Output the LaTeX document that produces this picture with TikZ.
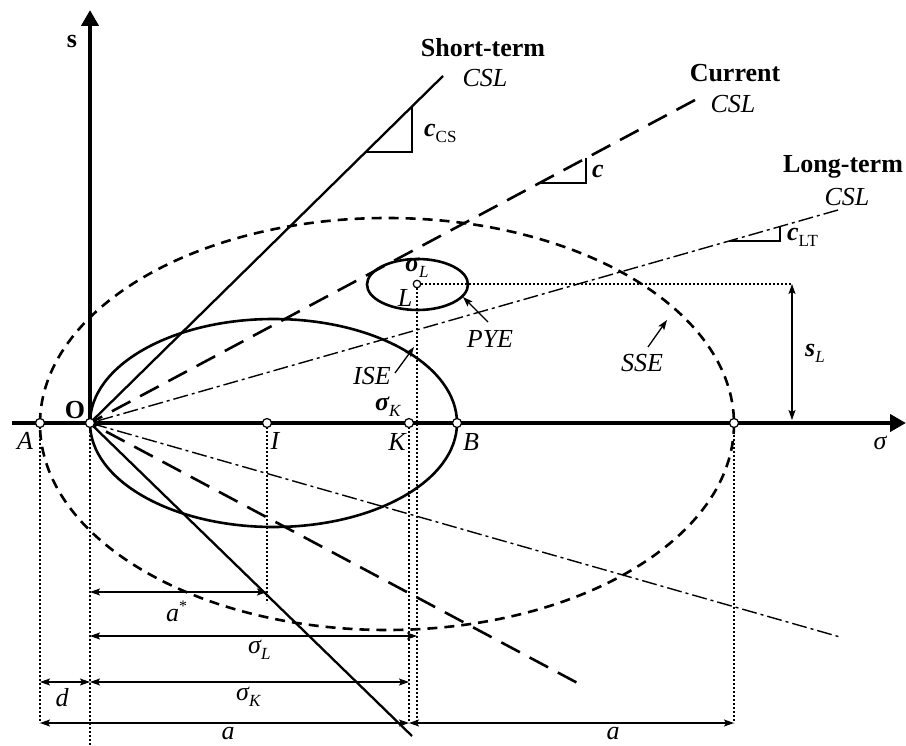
\documentclass[tikz,border=0pt]{standalone}
\usepackage{fontspec}
\setmainfont{Liberation Serif}
\usetikzlibrary{arrows.meta}
\newcommand{\mysub}[1]{\raisebox{-6pt}{\fontsize{17}{17}\selectfont #1}}
\newcommand{\bigf}{\fontsize{26}{30}\selectfont}
\begin{document}
\begin{tikzpicture}[x=1pt,y=-1pt,
  lbl/.style={font=\bigf\itshape, inner sep=0pt},
  blbl/.style={font=\bigf\bfseries, inner sep=0pt},
  bilbl/.style={font=\bigf\bfseries\itshape, inner sep=0pt},
  pnt/.style={circle, draw, fill=white, inner sep=0pt, minimum size=9pt, line width=1.2pt},
  dimline/.style={line width=1.2pt, {Stealth[length=10pt,width=7pt,inset=2pt]}-{Stealth[length=10pt,width=7pt,inset=2pt]}},
  guide/.style={line width=1.3pt, dash pattern=on 2pt off 2pt},
  slope/.style={line width=1.2pt},
  pointer/.style={line width=1.3pt, -{Stealth[length=10pt,width=7pt,inset=2pt]}},
  axis/.style={line width=4.3pt, -{Triangle[length=16pt,width=17pt]}},
  shortcsl/.style={line width=2.3pt},
  curcsl/.style={line width=2.6pt, dash pattern=on 21pt off 11pt},
  longcsl/.style={line width=1.4pt, dash pattern=on 15pt off 4pt on 3pt off 4pt},
  ellsolid/.style={line width=2.6pt},
  elldash/.style={line width=2.6pt, dash pattern=on 10pt off 7pt}
]
\useasboundingbox (0,0) rectangle (906,746);

% key points
\coordinate (O) at (90,423);
\coordinate (A) at (40,423);
\coordinate (I) at (267,423);
\coordinate (K) at (409,423);
\coordinate (B) at (457,423);
\coordinate (R) at (734,423);
\coordinate (L) at (417,284);

% line ends
\coordinate (stTop) at (443,76);
\coordinate (stBot) at (412,736);
\coordinate (cuTop) at (695,100);
\coordinate (cuBot) at (585,687);
\coordinate (ltTop) at (838,210);
\coordinate (ltBot) at (840,637);

% ellipses
\draw[elldash] (387,424) ellipse [x radius=347, y radius=206];
\draw[ellsolid] (273.5,423) ellipse [x radius=183.5, y radius=104];
\draw[ellsolid] (417.5,284.5) ellipse [x radius=50.5, y radius=25.5];

% CSL lines
\draw[shortcsl] (stTop) -- (O) -- (stBot);
\draw[curcsl] (cuTop) -- (O) -- (cuBot);
\draw[longcsl] (ltTop) -- (O) -- (ltBot);

% slope triangles
\draw[slope] (365.7,152) -- (412,152) -- (412,106.5);
\draw[slope] (539.5,183) -- (586,183) -- (586,158.2);
\draw[slope] (729,241) -- (780,241) -- (780,226.5);

% guides
\coordinate (sLtop) at (792,284);
\coordinate (sLbot) at (792,420);
\draw[guide] (L) -- (sLtop);
\draw[guide] (A) -- (40,723);
\draw[guide] (O) -- (90,746);
\draw[guide] (I) -- (267,603);
\draw[guide] (K) -- (409,723);
\draw[guide] (L) -- (417,723);
\draw[guide] (R) -- (734,723);

% axes
\coordinate (xStart) at (12,423);
\coordinate (xEnd) at (906,423);
\coordinate (yEnd) at (90,10);
\draw[axis] (xStart) -- (xEnd);
\draw[axis] (O) -- (yEnd);

% s_L dimension
\draw[dimline] (sLtop) -- (sLbot);

% dimension lines
\coordinate (d1a) at (90,592);  \coordinate (d1b) at (267,592);
\coordinate (d2a) at (90,636);  \coordinate (d2b) at (417,636);
\coordinate (d3a) at (40,682);  \coordinate (d3b) at (90,682);
\coordinate (d4a) at (90,682);  \coordinate (d4b) at (409,682);
\coordinate (d5a) at (40,723);  \coordinate (d5b) at (409,723);
\coordinate (d6a) at (409,723); \coordinate (d6b) at (734,723);
\draw[dimline] (d1a) -- (d1b);
\draw[dimline] (d2a) -- (d2b);
\draw[dimline] (d3a) -- (d3b);
\draw[dimline] (d4a) -- (d4b);
\draw[dimline] (d5a) -- (d5b);
\draw[dimline] (d6a) -- (d6b);

% point markers
\node[pnt] (pA) at (A) {};
\node[pnt] (pO) at (O) {};
\node[pnt] (pI) at (I) {};
\node[pnt] (pK) at (K) {};
\node[pnt] (pB) at (B) {};
\node[pnt] (pR) at (R) {};
\node[pnt, minimum size=7.5pt] (pL) at (L) {};

% line labels
\node[blbl] (tST) at (483,48) {Short-term};
\node[lbl] (tSTc) at (485,78) {CSL};
\node[blbl] (tCU) at (735,73) {Current};
\node[lbl] (tCUc) at (733,104) {CSL};
\node[blbl] (tLT) at (843,167) {Long-term};
\node[lbl] (tLTc) at (847,197) {CSL};

\node[anchor=west, inner sep=0pt] (tccs) at (424,133) {{\bigf\bfseries\itshape c}\mysub{CS}};
\node[bilbl, anchor=west] (tc) at (592,172) {c};
\node[anchor=west, inner sep=0pt] (tclt) at (787,237) {{\bigf\bfseries\itshape c}\mysub{LT}};

% axis labels
\node[blbl] (ts) at (72,42) {s};
\node[lbl] (tsig) at (880,443) {σ};
\node[blbl] (tO) at (75,410) {O};
\node[lbl] (tA) at (25,441) {A};
\node[lbl] (tI) at (275,441) {I};
\node[lbl] (tK) at (397,442) {K};
\node[lbl] (tB) at (471,442) {B};
\node[anchor=west, inner sep=0pt] (tsK) at (375,407) {{\bigf\bfseries\itshape σ}\mysub{\itshape K}};
\node[anchor=west, inner sep=0pt] (tsL) at (405,268) {{\bigf\bfseries\itshape σ}\mysub{\itshape L}};
\node[lbl] (tL) at (405,298) {L};

% ellipse labels with pointers
\node[lbl] (tPYE) at (490,339) {PYE};
\node[lbl] (tISE) at (372,376) {ISE};
\node[lbl] (tSSE) at (642,363) {SSE};
\coordinate (pyeTip) at (463,297);
\coordinate (iseTip) at (414,347);
\coordinate (sseTip) at (667,320);
\coordinate (pyeTail) at (488,322);
\coordinate (iseTail) at (395,373);
\coordinate (sseTail) at (648,347);
\draw[pointer] (pyeTail) -- (pyeTip);
\draw[pointer] (iseTail) -- (iseTip);
\draw[pointer] (sseTail) -- (sseTip);

% s_L label
\node[anchor=west, inner sep=0pt] (tsLab) at (805,353) {{\bigf\bfseries\itshape s}\mysub{\itshape L}};

% dimension labels
\node[anchor=west, inner sep=0pt] (tastar) at (166,611) {{\bigf\itshape a}\raisebox{10pt}{\fontsize{16}{16}\selectfont *}};
\node[anchor=west, inner sep=0pt] (tdsL) at (248,650) {{\bigf\itshape σ}\mysub{\itshape L}};
\node[lbl] (td) at (62,698) {d};
\node[anchor=west, inner sep=0pt] (tdsK) at (236,697) {{\bigf\itshape σ}\mysub{\itshape K}};
\node[lbl] (ta1) at (228,734) {a};
\node[lbl] (ta2) at (613,734) {a};
\end{tikzpicture}
\end{document}
